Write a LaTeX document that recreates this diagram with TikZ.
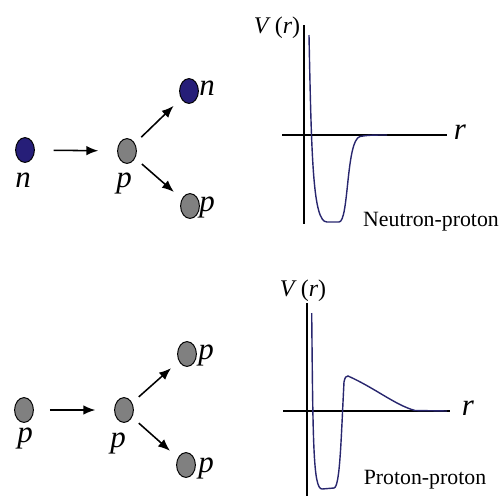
\documentclass[tikz,border=0pt]{standalone}
\usepackage{fontspec}
\setmainfont{Liberation Serif}
\usetikzlibrary{positioning, shapes.geometric, arrows.meta}
\definecolor{neutronBlue}{RGB}{38,30,120}
\definecolor{protonGray}{RGB}{128,128,128}
\definecolor{curveNavy}{RGB}{40,38,110}

\begin{document}
\begin{tikzpicture}[x=0.025cm, y=-0.025cm,
    particle/.style={ellipse, draw=black, line width=0.7pt, minimum width=0.47cm, minimum height=0.62cm, inner sep=0pt},
    neutron/.style={particle, fill=neutronBlue},
    proton/.style={particle, fill=protonGray},
    flow/.style={-{Latex[length=3mm, width=2.4mm]}, line width=1.1pt},
    sym/.style={font=\fontsize{22}{26}\selectfont\itshape, inner sep=0pt},
    axis/.style={line width=0.8pt},
    potential/.style={curveNavy, line width=1pt},
    caption/.style={font=\fontsize{15.5}{18}\selectfont, inner sep=0pt}]
  \useasboundingbox (0,0) rectangle (502,502);

  \node[neutron] (nIn) at (25,150) {};
  \node[proton] (pTop) at (127,151) {};
  \node[neutron] (nOut) at (189,91) {};
  \node[proton] (pOut) at (190,206) {};
  \node[sym] (lnIn) at (23,180) {n};
  \node[sym] (lpTop) at (124,183) {p};
  \node[sym] (lnOut) at (207,88) {n};
  \node[sym] (lpOut) at (207,207) {p};
  \draw[flow, shorten <=0.47cm, shorten >=0.47cm] (nIn) -- (pTop);
  \draw[flow, shorten <=0.22cm, shorten >=0.26cm] (pTop) -- (nOut);
  \draw[flow, shorten <=0.22cm, shorten >=0.26cm] (pTop) -- (pOut);

  \node[proton] (pIn) at (24,410) {};
  \node[proton] (pMid) at (124,410) {};
  \node[proton] (pUp) at (187,354) {};
  \node[proton] (pDown) at (186,465) {};
  \node[sym] (lpIn) at (25,438) {p};
  \node[sym] (lpMid) at (118,443) {p};
  \node[sym] (lpUp) at (206,355) {p};
  \node[sym] (lpDown) at (206,468) {p};
  \draw[flow, shorten <=0.4cm, shorten >=0.47cm] (pIn) -- (pMid);
  \draw[flow, shorten <=0.22cm, shorten >=0.26cm] (pMid) -- (pUp);
  \draw[flow, shorten <=0.22cm, shorten >=0.26cm] (pMid) -- (pDown);

  \draw[axis] (304,25) -- (304,224);
  \draw[axis] (282,135) -- (447,135);
  \node[font=\fontsize{17}{20}\selectfont, inner sep=0pt] (vTop) at (277,28) {\textit{V}\,(\textit{r})};
  \node[sym] (rTop) at (460,132) {r};
  \node[caption] (npLabel) at (431,222) {Neutron-proton};
  \draw[potential] (309,35) .. controls (311.5,160) and (313,222) .. (327,222)
    -- (339,222) .. controls (349,222) and (346,140) .. (360,136.5)
    .. controls (368,135) and (375,135) .. (387,135);

  \draw[axis] (307,303) -- (307,496);
  \draw[axis] (283,411) -- (450,411);
  \node[font=\fontsize{17}{20}\selectfont, inner sep=0pt] (vBot) at (303,291) {\textit{V}\,(\textit{r})};
  \node[sym] (rBot) at (468,408) {r};
  \node[caption] (ppLabel) at (425,480) {Proton-proton};
  \draw[potential] (311.7,313) .. controls (313,440) and (313,489) .. (322,489)
    -- (334,488) .. controls (340,487) and (341,440) .. (344,382)
    .. controls (345,377) and (346,376) .. (348,376)
    .. controls (375,388) and (395,405) .. (415,410.5) -- (447,411);
\end{tikzpicture}
\end{document}
